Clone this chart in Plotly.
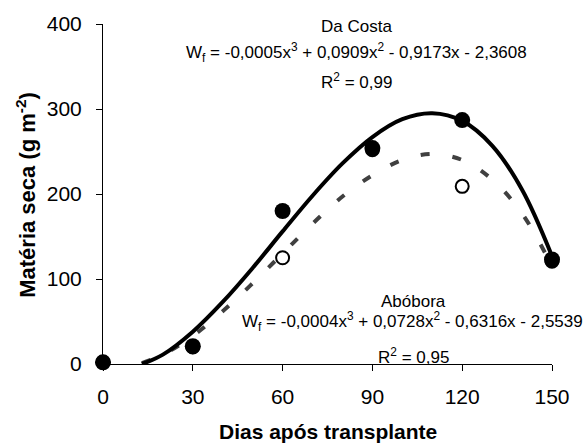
import plotly.graph_objects as go

# Observed data (days after transplant vs dry matter, g m-2)
days = [0, 30, 60, 90, 120, 150]
da_costa = [2, 21, 180, 254, 287, 123]
abobora = [2, 20, 125, 252, 209, 121]

# Fitted curves
curve_days = [13, 20, 30, 40, 50, 60, 70, 80, 90, 100, 110, 120, 130, 140, 150]
da_costa_fit = [0, 11, 38, 73, 113, 156, 198, 236, 267, 288, 295, 286, 257, 205, 127]
abobora_fit = [1, 11, 33, 62, 95, 130, 165, 197, 222, 240, 247, 240, 217, 177, 115]

x_ticks = [0, 30, 60, 90, 120, 150]
y_ticks = [0, 100, 200, 300, 400]

FONT = "Liberation Sans, Arial, sans-serif"

fig = go.Figure()

fig.add_trace(go.Scatter(
    x=curve_days, y=abobora_fit, mode="lines",
    line=dict(color="#404040", width=4, dash="9px,23px", shape="spline"),
    showlegend=False, hoverinfo="skip"))
fig.add_trace(go.Scatter(
    x=curve_days, y=da_costa_fit, mode="lines",
    line=dict(color="black", width=4, shape="spline"),
    showlegend=False, hoverinfo="skip"))
fig.add_trace(go.Scatter(
    x=days, y=abobora, mode="markers", cliponaxis=False,
    marker=dict(symbol="circle", size=13, color="white",
                line=dict(color="black", width=2)),
    showlegend=False))
fig.add_trace(go.Scatter(
    x=days, y=da_costa, mode="markers", cliponaxis=False,
    marker=dict(symbol="circle", size=16, color="black",
                line=dict(color="black", width=0)),
    showlegend=False))

ann_font = dict(family=FONT, size=17, color="black")
annotations = [
    dict(x=84.8, y=397, text="Da Costa"),
    dict(x=84.7, y=366, text="W<sub>f</sub> = -0,0005x<sup>3</sup> + 0,0909x<sup>2</sup> - 0,9173x - 2,3608"),
    dict(x=84.8, y=333, text="R<sup>2</sup> = 0,99"),
    dict(x=103.7, y=74, text="Abóbora"),
    dict(x=103.4, y=50, text="W<sub>f</sub> = -0,0004x<sup>3</sup> + 0,0728x<sup>2</sup> - 0,6316x - 2,5539"),
    dict(x=103.7, y=10, text="R<sup>2</sup> = 0,95"),
]
anns = []
for a in annotations:
    anns.append(dict(x=a["x"], y=a["y"], xref="x", yref="y", text=a["text"],
                     showarrow=False, xanchor="center", yanchor="middle",
                     font=ann_font))

anns.append(dict(x=0.501, y=-0.198, xref="paper", yref="paper",
                 text="<b>Dias após transplante</b>", showarrow=False,
                 xanchor="center", yanchor="middle",
                 font=dict(family=FONT, size=21, color="black")))
anns.append(dict(x=-0.172, y=0.497, xref="paper", yref="paper",
                 text="<b>Matéria seca (g m<sup>-2</sup>)</b>", showarrow=False,
                 textangle=-90, xanchor="center", yanchor="middle",
                 font=dict(family=FONT, size=22, color="black")))

fig.update_layout(
    width=585, height=445,
    margin=dict(l=103, r=33, t=24, b=81),
    paper_bgcolor="white", plot_bgcolor="white",
    font=dict(family=FONT, size=21, color="black"),
    annotations=anns,
    xaxis=dict(range=[0, 150], tickvals=x_ticks, ticktext=[str(v) for v in x_ticks],
               showline=True, linecolor="black", linewidth=1,
               ticks="outside", ticklen=6, tickwidth=1, tickcolor="black",
               showgrid=False, zeroline=False, ticklabelstandoff=8,
               tickfont=dict(family=FONT, size=21, color="black")),
    yaxis=dict(range=[0, 400], tickvals=y_ticks, ticktext=[str(v) for v in y_ticks],
               showline=True, linecolor="black", linewidth=1,
               ticks="outside", ticklen=6, tickwidth=1, tickcolor="black",
               showgrid=False, zeroline=False, ticklabelstandoff=10,
               tickfont=dict(family=FONT, size=21, color="black")),
)

fig.write_html("out.html")
